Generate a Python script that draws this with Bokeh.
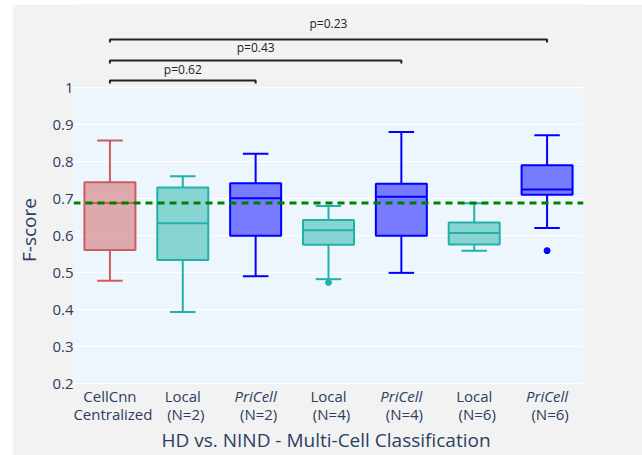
from bokeh.plotting import figure
from bokeh.models import (ColumnDataSource, FactorRange, Range1d, Span,
                          FixedTicker, BoxAnnotation)
from bokeh.core.properties import value
from bokeh.embed import file_html
from bokeh.resources import INLINE

# ---------------- data ----------------
categories = ["CellCnn Centralized", "Local (N=2)", "PriCell (N=2)", "Local (N=4)",
              "PriCell (N=4)", "Local (N=6)", "PriCell (N=6)"]
label_line1 = ["CellCnn", "Local", "PriCell", "Local", "PriCell", "Local", "PriCell"]
label_line2 = ["Centralized", "(N=2)", "(N=2)", "(N=4)", "(N=4)", "(N=6)", "(N=6)"]
method = ["CellCnn", "Local", "PriCell", "Local", "PriCell", "Local", "PriCell"]

whisker_low = [0.478, 0.393, 0.490, 0.482, 0.499, 0.559, 0.620]
q1 = [0.561, 0.534, 0.599, 0.575, 0.599, 0.576, 0.710]
median = [0.688, 0.633, 0.701, 0.614, 0.705, 0.607, 0.724]
q3 = [0.744, 0.730, 0.741, 0.642, 0.740, 0.635, 0.790]
whisker_high = [0.857, 0.760, 0.821, 0.680, 0.880, 0.687, 0.871]

outlier_cat = ["Local (N=4)", "PriCell (N=6)"]
outlier_val = [0.473, 0.559]

baseline = 0.688

comparisons = [("CellCnn Centralized", "PriCell (N=2)"),
               ("CellCnn Centralized", "PriCell (N=4)"),
               ("CellCnn Centralized", "PriCell (N=6)")]
p_values = ["p=0.62", "p=0.43", "p=0.23"]

y_ticks = [0.2, 0.3, 0.4, 0.5, 0.6, 0.7, 0.8, 0.9, 1.0]
y_title = "F-score"
x_title = "HD vs. NIND -  Multi-Cell Classification"

# ---------------- style / layout ----------------
colors = {"CellCnn": "#cd5c5c", "Local": "#20b2aa", "PriCell": "#0000ff"}
PAPER = "#f2f2f2"
PLOT_BG = "#eef6fd"
TXT = "#2a3f5f"
FONT = "Open Sans"
PX = 370.0            # pixels per F-score unit inside the plot area
ABOVE, BELOW = 83, 72  # pixels of annotation room above 1.0 and below 0.2

y_lo = y_ticks[0] - BELOW / PX
y_hi = y_ticks[-1] + ABOVE / PX

x_range = FactorRange(factors=categories)

p = figure(width=630, height=451, x_range=x_range, y_range=Range1d(y_lo, y_hi),
           output_backend="svg", toolbar_location=None, x_axis_location=None,
           min_border_left=61, min_border_right=59,
           min_border_top=0, min_border_bottom=0, margin=(4, 0, 0, 12))
p.background_fill_color = PAPER
p.border_fill_color = PAPER
p.outline_line_color = None
p.xgrid.grid_line_color = None

# plot area background
p.add_layout(BoxAnnotation(bottom=y_ticks[0], top=y_ticks[-1], fill_color=PLOT_BG,
                           fill_alpha=1.0, line_color=None, level="image"))

p.ygrid.ticker = FixedTicker(ticks=y_ticks)
p.ygrid.grid_line_color = "white"
p.ygrid.grid_line_width = 1

ax = p.yaxis[0]
ax.ticker = FixedTicker(ticks=y_ticks)
ax.major_label_overrides = {1: "1"}
ax.axis_line_color = None
ax.major_tick_line_color = None
ax.minor_tick_line_color = None
ax.major_tick_out = 0
ax.major_label_standoff = 0
ax.major_label_text_font = FONT
ax.major_label_text_font_size = "15px"
ax.major_label_text_color = TXT
ax.axis_label = y_title
ax.axis_label_text_font = FONT
ax.axis_label_text_font_size = "19px"
ax.axis_label_text_font_style = "normal"
ax.axis_label_text_color = TXT
ax.axis_label_standoff = 7

src = ColumnDataSource(dict(cat=categories, lo=whisker_low, q1=q1, med=median,
                            q3=q3, hi=whisker_high,
                            color=[colors[m] for m in method]))

# whiskers
p.segment(x0="cat", y0="q3", x1="cat", y1="hi", line_color="color", line_width=2, source=src)
p.segment(x0="cat", y0="q1", x1="cat", y1="lo", line_color="color", line_width=2, source=src)
# caps
p.rect(x="cat", y="hi", width=0.35, height=2, height_units="screen",
       fill_color="color", line_color=None, source=src)
p.rect(x="cat", y="lo", width=0.35, height=2, height_units="screen",
       fill_color="color", line_color=None, source=src)
# boxes
p.vbar(x="cat", width=0.7, top="q3", bottom="q1", fill_color="color", fill_alpha=0.5,
       line_color="color", line_width=2, source=src)
# medians
p.rect(x="cat", y="med", width=0.7, height=2, height_units="screen",
       fill_color="color", line_color=None, source=src)
# outliers
osrc = ColumnDataSource(dict(cat=outlier_cat, val=outlier_val,
                             color=[colors[c.split(" ")[0]] for c in outlier_cat]))
p.scatter(x="cat", y="val", size=6, fill_color="color", line_color="color", source=osrc)

p.add_layout(Span(location=baseline, dimension="width", line_color="green",
                  line_dash="7 5", line_width=3))

# ---------------- significance brackets ----------------
bracket_px = [7, 27, 48]      # pixels above the 1.0 line
text_px = [18, 40, 64]
tick_px = 3
xs, ys, tx, ty = [], [], [], []
for k, (a, b) in enumerate(comparisons):
    yb = y_ticks[-1] + bracket_px[k] / PX
    yt = yb - tick_px / PX
    xs.append([a, a, b, b])
    ys.append([yt, yb, yb, yt])
    i, j = categories.index(a), categories.index(b)
    tx.append(categories[(i + j) // 2])
    ty.append(y_ticks[-1] + text_px[k] / PX)
p.multi_line(xs=xs, ys=ys, line_color="#222222", line_width=2)
p.text(x=tx, y=ty, text=p_values, text_font=value(FONT), text_font_size="12px",
       text_color="#222222", text_align="center", text_baseline="middle")

# ---------------- category labels and x title ----------------
lsrc = ColumnDataSource(dict(cat=categories, l1=label_line1, l2=label_line2,
                             base=[y_ticks[0]] * len(categories),
                             style=["italic" if m == "PriCell" else "normal" for m in method]))
p.text(x="cat", y="base", text="l1", y_offset=12, text_font=value(FONT),
       text_font_size="15px", text_font_style="style", text_color=TXT,
       text_align="center", text_baseline="middle", source=lsrc)
p.text(x="cat", y="base", text="l2", y_offset=30, x_offset=3, text_font=value(FONT),
       text_font_size="15px", text_color=TXT, text_align="center",
       text_baseline="middle", source=lsrc)
p.text(x=[categories[len(categories) // 2]], y=[y_ticks[0]], text=[x_title], y_offset=56,
       text_font=value(FONT), text_font_size="19px", text_color=TXT,
       text_align="center", text_baseline="middle")

open("out.html", "w").write(file_html(p, INLINE))
